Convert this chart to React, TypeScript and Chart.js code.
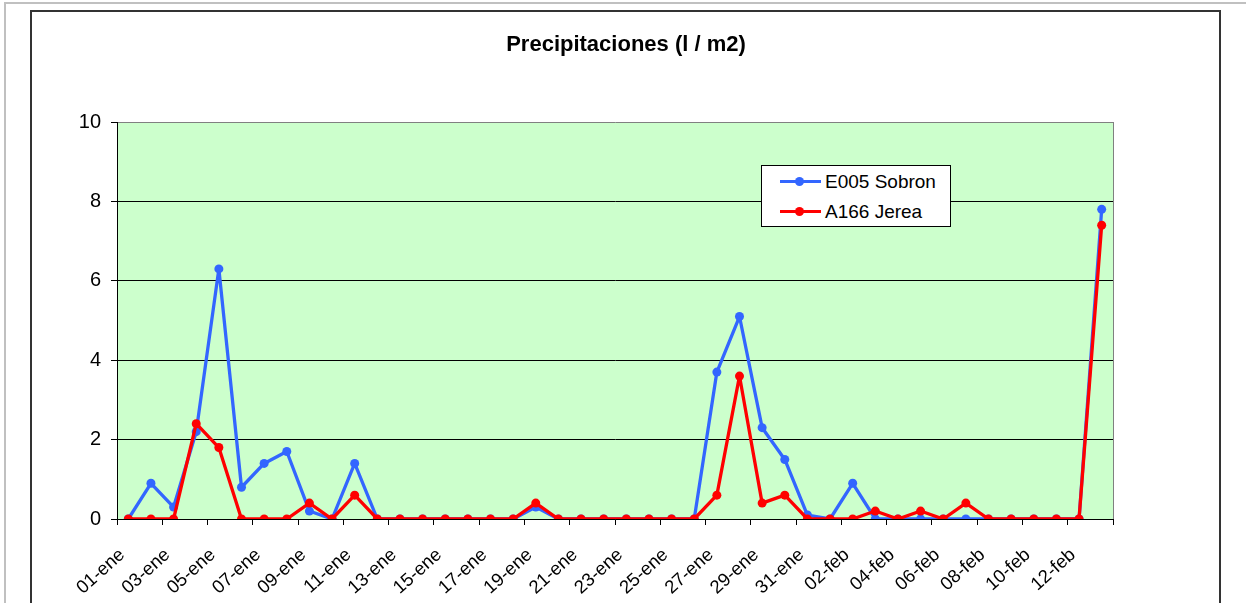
import React, { useEffect, useRef } from "react";
import { Chart, registerables } from "chart.js";

Chart.register(...registerables);

// ---- data ----
const dates = [
  "01-ene", "02-ene", "03-ene", "04-ene", "05-ene", "06-ene", "07-ene", "08-ene", "09-ene", "10-ene",
  "11-ene", "12-ene", "13-ene", "14-ene", "15-ene", "16-ene", "17-ene", "18-ene", "19-ene", "20-ene",
  "21-ene", "22-ene", "23-ene", "24-ene", "25-ene", "26-ene", "27-ene", "28-ene", "29-ene", "30-ene",
  "31-ene", "01-feb", "02-feb", "03-feb", "04-feb", "05-feb", "06-feb", "07-feb", "08-feb", "09-feb",
  "10-feb", "11-feb", "12-feb", "13-feb",
];

const sobron = [
  0, 0.9, 0.3, 2.2, 6.3, 0.8, 1.4, 1.7, 0.2, 0,
  1.4, 0, 0, 0, 0, 0, 0, 0, 0.3, 0,
  0, 0, 0, 0, 0, 0, 3.7, 5.1, 2.3, 1.5,
  0.1, 0, 0.9, 0, 0, 0, 0, 0, 0, 0,
  0, 0, 0, 7.8,
];

const jerea = [
  0, 0, 0, 2.4, 1.8, 0, 0, 0, 0.4, 0,
  0.6, 0, 0, 0, 0, 0, 0, 0, 0.4, 0,
  0, 0, 0, 0, 0, 0, 0.6, 3.6, 0.4, 0.6,
  0, 0, 0, 0.2, 0, 0.2, 0, 0.4, 0, 0,
  0, 0, 0, 7.4,
];

const seriesNames = ["E005 Sobron", "A166 Jerea"];
const seriesColors = ["#3366FF", "#FF0000"];
const seriesData = [sobron, jerea];
const yMin = 0;
const yMax = 10;
const yStep = 2;
const chartTitle = "Precipitaciones (l / m2)";

// ---- layout ----
const W = 1246;
const H = 603;
const AREA_LEFT = 117;
const AREA_TOP = 122;
const AREA_RIGHT = 1113;
const AREA_BOTTOM = 519;
const Y_AXIS_W = 60;
const FONT = "'Liberation Sans', Arial, Helvetica, sans-serif";

export default function App() {
  const ref = useRef<HTMLCanvasElement>(null);

  useEffect(() => {
    if (!ref.current) return;
    const plotPlugin = {
      id: "plotArea",
      beforeDraw(chart: any) {
        const { ctx, chartArea: a } = chart;
        ctx.save();
        ctx.fillStyle = "#CCFFCC";
        ctx.fillRect(a.left, a.top, a.right - a.left, a.bottom - a.top);
        ctx.restore();
      },
      beforeDatasetsDraw(chart: any) {
        const { ctx, chartArea: a } = chart;
        ctx.save();
        ctx.strokeStyle = "#808080";
        ctx.lineWidth = 1;
        ctx.beginPath();
        ctx.moveTo(Math.round(a.right) + 0.5, a.top);
        ctx.lineTo(Math.round(a.right) + 0.5, a.bottom);
        ctx.stroke();
        ctx.restore();
      },
    };

    const chart = new Chart(ref.current, {
      type: "line",
      data: {
        labels: dates,
        datasets: seriesData.map((d, i) => ({
          label: seriesNames[i],
          data: d,
          borderColor: seriesColors[i],
          backgroundColor: seriesColors[i],
          pointBackgroundColor: seriesColors[i],
          pointBorderColor: seriesColors[i],
          borderWidth: 3.3,
          borderJoinStyle: "round",
          pointRadius: 4.5,
          pointBorderWidth: 0,
          tension: 0,
          fill: false,
          order: seriesData.length - i,
        })),
      },
      options: {
        responsive: false,
        animation: false,
        devicePixelRatio: 1,
        layout: {
          padding: {
            left: AREA_LEFT - Y_AXIS_W,
            right: W - AREA_RIGHT,
            top: AREA_TOP,
            bottom: 0,
          },
        },
        plugins: {
          legend: { display: false },
          tooltip: { enabled: false },
          title: { display: false },
        },
        scales: {
          x: {
            type: "category",
            offset: true,
            grid: {
              offset: true,
              drawOnChartArea: false,
              tickLength: 6,
              lineWidth: 1,
              color: (ctx: any) =>
                ctx.index === undefined || ctx.index % 2 === 0 ? "#000" : "rgba(0,0,0,0)",
            },
            border: { display: true, color: "#000", width: 1 },
            ticks: {
              autoSkip: false,
              minRotation: 42,
              maxRotation: 42,
              color: "#000",
              padding: 19,
              labelOffset: -6,
              font: { family: FONT, size: 18.5 },
              callback: (_v: any, i: number) => (i % 2 === 0 ? dates[i] : ""),
            },
            afterFit: (s: any) => {
              s.height = H - AREA_BOTTOM;
            },
          },
          y: {
            min: yMin,
            max: yMax,
            grid: {
              tickLength: 6,
              lineWidth: 1,
              tickColor: "#000",
              color: (ctx: any) =>
                ctx.tick && ctx.tick.value === yMax ? "#808080" : "#000",
            },
            border: { display: true, color: "#000", width: 1 },
            ticks: {
              stepSize: yStep,
              color: "#000",
              padding: 10,
              font: { family: FONT, size: 20 },
            },
            afterFit: (s: any) => {
              s.width = Y_AXIS_W;
            },
          },
        },
      },
      plugins: [plotPlugin],
    } as any);

    return () => chart.destroy();
  }, []);

  const legendLeft = 761;
  const legendTop = 165;
  const rowCenters = [16, 46];

  return (
    <div
      style={{
        position: "fixed",
        left: 0,
        top: 0,
        width: W,
        height: H,
        overflow: "hidden",
        background: "#fff",
      }}
    >
      <div
        style={{
          position: "absolute",
          left: 4,
          top: 2,
          width: 1400,
          height: 800,
          border: "2px solid #c0c0c0",
        }}
      />
      <div
        style={{
          position: "absolute",
          left: 30,
          top: 10,
          width: 1191,
          height: 800,
          boxSizing: "border-box",
          border: "2px solid #333",
        }}
      />
      <canvas
        ref={ref}
        width={W}
        height={H}
        style={{ position: "absolute", left: 0, top: 0, width: W, height: H }}
      />
      <div
        style={{
          position: "absolute",
          left: 3,
          top: 31,
          width: W,
          height: 26,
          lineHeight: "26px",
          textAlign: "center",
          fontFamily: FONT,
          fontWeight: "bold",
          fontSize: 22,
          color: "#000",
          whiteSpace: "nowrap",
        }}
      >
        {chartTitle}
      </div>
      <div
        style={{
          position: "absolute",
          left: legendLeft,
          top: legendTop,
          width: 190,
          height: 62,
          boxSizing: "border-box",
          border: "1px solid #000",
          background: "#fff",
          fontFamily: FONT,
          fontSize: 19,
          color: "#000",
        }}
      >
        {seriesNames.map((name, i) => (
          <div key={name}>
            <div
              style={{
                position: "absolute",
                left: 18,
                top: rowCenters[i] - 2.5,
                width: 41,
                height: 3,
                background: seriesColors[i],
              }}
            />
            <div
              style={{
                position: "absolute",
                left: 33,
                top: rowCenters[i] - 5,
                width: 9,
                height: 9,
                borderRadius: "50%",
                background: seriesColors[i],
              }}
            />
            <div
              style={{
                position: "absolute",
                left: 63,
                top: rowCenters[i] - 12,
                height: 24,
                lineHeight: "24px",
                whiteSpace: "nowrap",
              }}
            >
              {name}
            </div>
          </div>
        ))}
      </div>
    </div>
  );
}
